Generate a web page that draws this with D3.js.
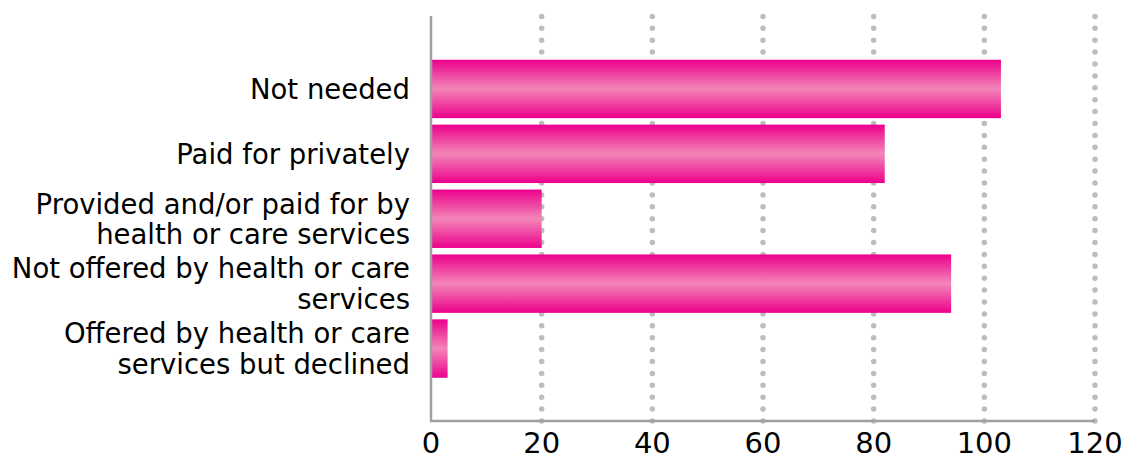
<!DOCTYPE html>
<html>
<head>
<meta charset="utf-8">
<script src="https://cdn.jsdelivr.net/npm/d3@7"></script>
<style>
  html, body { margin: 0; padding: 0; background: #fff; }
  svg { display: block; }
</style>
</head>
<body>
<svg id="chart" width="1125" height="457"></svg>
<script>
const categories = [
  ["Not needed"],
  ["Paid for privately"],
  ["Provided and/or paid for by", "health or care services"],
  ["Not offered by health or care", "services"],
  ["Offered by health or care", "services but declined"]
];
const values = [103, 82, 20, 94, 3];
const xTicks = [0, 20, 40, 60, 80, 100, 120];

const svg = d3.select("#chart");
const font = "'DejaVu Sans', sans-serif";

const x = d3.scaleLinear().domain([0, 120]).range([431, 1095]);
const y = d3.scaleBand()
  .domain(d3.range(categories.length))
  .range([56.5, 381])
  .paddingInner(0.1)
  .paddingOuter(0.05);

const defs = svg.append("defs");
const grad = defs.append("linearGradient")
  .attr("id", "barGrad").attr("x1", 0).attr("y1", 0).attr("x2", 0).attr("y2", 1);
grad.append("stop").attr("offset", "0%").attr("stop-color", "#ec008c");
grad.append("stop").attr("offset", "50%").attr("stop-color", "#f386b8");
grad.append("stop").attr("offset", "100%").attr("stop-color", "#ec008c");

const axisTop = 16, axisBottom = 421;

// dotted gridlines
svg.append("g").selectAll("line")
  .data(xTicks.filter(d => d > 0))
  .join("line")
  .attr("x1", d => x(d)).attr("x2", d => x(d))
  .attr("y1", axisBottom).attr("y2", axisTop)
  .attr("stroke", "#bdbdbd")
  .attr("stroke-width", 5.5)
  .attr("stroke-linecap", "round")
  .attr("stroke-dasharray", "0 11.9");

// bars
svg.append("g").selectAll("rect")
  .data(values)
  .join("rect")
  .attr("x", x(0))
  .attr("y", (d, i) => y(i))
  .attr("width", d => x(d) - x(0))
  .attr("height", y.bandwidth())
  .attr("fill", "url(#barGrad)");

// axis lines
svg.append("line")
  .attr("x1", x(0)).attr("x2", x(0))
  .attr("y1", axisTop).attr("y2", axisBottom)
  .attr("stroke", "#a0a0a0").attr("stroke-width", 2.5);
svg.append("line")
  .attr("x1", x(0) - 1).attr("x2", x(120))
  .attr("y1", axisBottom).attr("y2", axisBottom)
  .attr("stroke", "#a0a0a0").attr("stroke-width", 2.5);

// x tick labels
svg.append("g").selectAll("text")
  .data(xTicks)
  .join("text")
  .attr("x", d => x(d))
  .attr("y", 453)
  .attr("text-anchor", "middle")
  .attr("font-family", font)
  .attr("font-size", 29)
  .attr("fill", "#000")
  .text(d => d);

// category labels
const lineH = 30.5;
const lab = svg.append("g").selectAll("text")
  .data(categories)
  .join("text")
  .attr("text-anchor", "end")
  .attr("font-family", font)
  .attr("font-size", 27.5)
  .attr("fill", "#000");
lab.each(function(lines, i) {
  const cy = y(i) + y.bandwidth() / 2;
  const first = cy + 10 - (lines.length - 1) * lineH / 2;
  d3.select(this).selectAll("tspan")
    .data(lines)
    .join("tspan")
    .attr("x", 410)
    .attr("y", (d, j) => first + j * lineH)
    .text(d => d);
});
</script>
</body>
</html>
